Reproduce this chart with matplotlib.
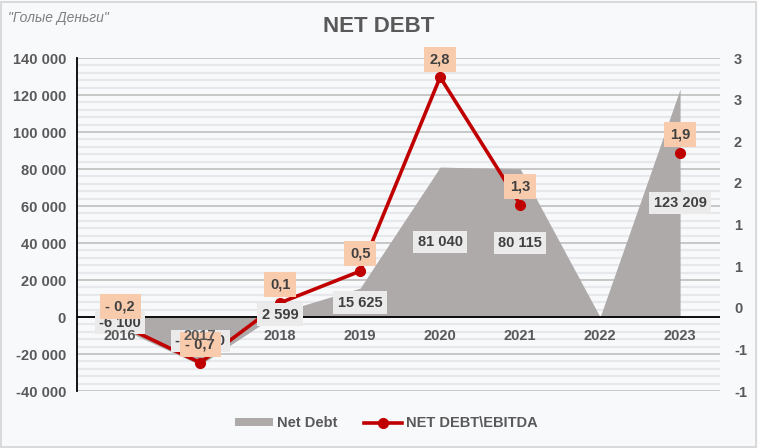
import numpy as np
import matplotlib
matplotlib.use("Agg")
import matplotlib.pyplot as plt
from matplotlib.patches import Rectangle
from matplotlib.lines import Line2D
from matplotlib.patches import Patch

plt.rcParams['font.family'] = ['Liberation Sans', 'DejaVu Sans']

years = ['2016', '2017', '2018', '2019', '2020', '2021', '2022', '2023']
net_debt = [-6100, -25900, 2599, 15625, 81040, 80115, 0, 123209]
net_debt_labels = ['-6 100', '-25 900', '2 599', '15 625', '81 040', '80 115', '', '123 209']
ratio = [-0.2, -0.66, 0.06, 0.44, 2.77, 1.24, np.nan, 1.86]
ratio_labels = ['- 0,2', '- 0,7', '0,1', '0,5', '2,8', '1,3', '', '1,9']
left_ticks = [-40000, -20000, 0, 20000, 40000, 60000, 80000, 100000, 120000, 140000]
right_ticks = [-1, -0.5, 0, 0.5, 1, 1.5, 2, 2.5, 3]
right_tick_labels = ['-1', '-1', '0', '1', '1', '2', '2', '3', '3']

txt = '#595959'
area_col = '#aeaaaa'
red = '#c00000'

fig = plt.figure(figsize=(7.58, 4.48), dpi=100)
fig.patch.set_facecolor('#f8f9fb')
fig.patches.append(Rectangle((0.001, 0.003), 0.997, 0.993, transform=fig.transFigure,
                             fill=False, edgecolor='#d4d4d4', linewidth=1.2))

ax = fig.add_axes([0.1016, 0.1272, 0.8484, 0.7433])
ax.set_facecolor('#f8f9fb')
x = np.arange(len(years))

# background stripes and gridlines
for v in np.arange(-40000, 140001, 4000):
    if v % 20000 == 0:
        ax.axhline(v, color='#bfbfbf', linewidth=1.2, zorder=1)
    else:
        ax.axhline(v, color='#e6e8ec', linewidth=1.6, zorder=0.5)

ax.fill_between(x, net_debt, 0, color=area_col, linewidth=0, zorder=2)
ax.axhline(0, color='black', linewidth=1.3, zorder=3)

ax.set_xlim(-0.54, 7.5)
ax.set_ylim(-40000, 140000)
ax.set_yticks(left_ticks)
ax.set_yticklabels([f"{v:,}".replace(',', ' ') for v in left_ticks])
ax.tick_params(axis='y', length=0, pad=8, labelsize=10.5, labelcolor=txt)
for lab in ax.get_yticklabels():
    lab.set_fontweight('bold')
ax.set_xticks([])

for s in ['top', 'right', 'bottom']:
    ax.spines[s].set_visible(False)
ax.spines['left'].set_color('black')
ax.spines['left'].set_linewidth(1.3)
ax.spines['left'].set_zorder(4)

ax2 = ax.twinx()
ax2.set_ylim(-1, 3)
ax2.set_yticks(right_ticks)
ax2.set_yticklabels(right_tick_labels)
ax2.tick_params(axis='y', length=0, pad=10, labelsize=10.5, labelcolor=txt)
for lab in ax2.get_yticklabels():
    lab.set_fontweight('bold')
for s in ax2.spines.values():
    s.set_visible(False)

ax2.plot(x, ratio, color=red, linewidth=2.6, marker='o', markersize=7, zorder=5)

# net debt labels at half height
for i, v in enumerate(net_debt):
    if net_debt_labels[i] == '':
        continue
    ax2.annotate(net_debt_labels[i], (i, v / 2), xycoords=ax.transData,
                 ha='center', va='center', fontsize=10.5, fontweight='bold', color='#404040',
                 bbox=dict(boxstyle='square,pad=0.3', fc='#ebebeb', ec='none'), zorder=6)

# ratio labels above points
for i, v in enumerate(ratio):
    if ratio_labels[i] == '':
        continue
    ax2.annotate(ratio_labels[i], (i, v), xytext=(0, 13), textcoords='offset points',
                 ha='center', va='center', fontsize=10.5, fontweight='bold', color='#404040',
                 bbox=dict(boxstyle='square,pad=0.38', fc='#f8cbad', ec='none'), zorder=7)

# category labels sit on the zero line, drawn on top like in the source
for i, y in enumerate(years):
    ax2.annotate(y, (i, 0), xycoords=ax.transData, xytext=(0, -14),
                 textcoords='offset points', ha='center', va='center',
                 fontsize=10.5, fontweight='bold', color=txt, zorder=8)

fig.text(0.5, 0.94, 'NET DEBT', ha='center', va='center', fontsize=16,
         fontweight='bold', color=txt)
fig.text(0.011, 0.96, '"Голые Деньги"', ha='left', va='center', fontsize=10,
         style='italic', color='#7f7f7f')

handles = [Patch(facecolor=area_col, edgecolor='none'),
           Line2D([0], [0], color=red, linewidth=2.6, marker='o', markersize=7)]
leg = fig.legend(handles, ['Net Debt', 'NET DEBT\\EBITDA'], loc='center',
                 bbox_to_anchor=(0.51, 0.055), ncol=2, frameon=False,
                 handlelength=2.6, handleheight=0.5, columnspacing=1.8, handletextpad=0.3,
                 prop={'size': 10.5, 'weight': 'bold'})
for t in leg.get_texts():
    t.set_color(txt)

fig.savefig('out.png', dpi=100, facecolor=fig.get_facecolor())
